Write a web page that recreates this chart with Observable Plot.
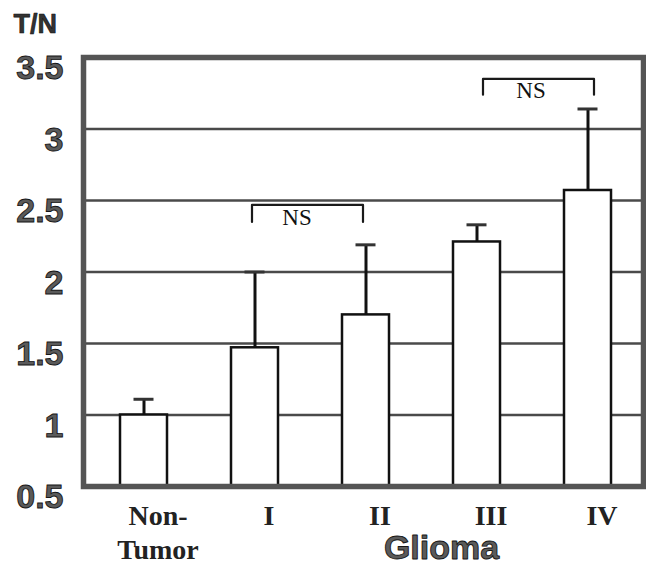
<!DOCTYPE html>
<html><head><meta charset="utf-8">
<script src="https://cdn.jsdelivr.net/npm/d3@7"></script>
<script src="https://cdn.jsdelivr.net/npm/@observablehq/plot@0.6"></script>
<style>
body{margin:0;background:#fff;}
#chart svg{display:block;}
#chart g[aria-label="y-axis tick label"]{fill:#5a5a5a;stroke:#151515;stroke-width:0.9px;font-family:"Liberation Sans",Arial,sans-serif;font-weight:bold;font-size:34px;}
#chart g[aria-label="x-axis tick label"]{fill:#222;font-family:"Liberation Serif","Times New Roman",serif;font-weight:bold;font-size:28px;}
</style></head><body><div id="chart"></div>
<script>
// Data
const categories = ["Non-\nTumor", "I", "II", "III", "IV"];
const means      = [1.00, 1.47, 1.70, 2.21, 2.57];
const errTops    = [1.11, 2.00, 2.19, 2.33, 3.14];
const yTicks      = [0.5, 1, 1.5, 2, 2.5, 3, 3.5];
const yTickLabels = ["0.5", "1", "1.5", "2", "2.5", "3", "3.5"];
const gridValues  = [1, 1.5, 2, 2.5, 3];
// "NS" brackets
const nsFrom   = ["I", "III"];
const nsTo     = ["II", "IV"];
const nsTop    = [2.47, 3.35];
const nsTip    = [2.35, 3.24];
const nsLabelY = [2.38, 3.27];
const nsText   = ["NS", "NS"];

const rows = categories.map((c, i) => ({cat: c, mean: means[i], err: errTops[i]}));
const bracketMarks = nsFrom.map((f, i) => Plot.line(
  [{x: f, y: nsTip[i]}, {x: f, y: nsTop[i]}, {x: nsTo[i], y: nsTop[i]}, {x: nsTo[i], y: nsTip[i]}],
  {x: "x", y: "y", stroke: "#1a1a1a", strokeWidth: 2.2, curve: "linear", dx: i === 0 ? -3 : 6}
));
const nsLabelMarks = nsFrom.map((f, i) => Plot.text([nsText[i]], {
  x: () => f, y: () => nsLabelY[i], text: d => d,
  dx: i === 0 ? 42 : 54, fontFamily: "Liberation Serif, Times New Roman, serif",
  fontSize: 23, fill: "#111", lineAnchor: "middle"
}));

const chart = Plot.plot({
  width: 646, height: 568,
  marginLeft: 83, marginRight: 3, marginTop: 57, marginBottom: 82,
  style: {background: "white", fontFamily: "Liberation Sans, Arial, sans-serif"},
  x: {domain: categories, paddingInner: 0.578, paddingOuter: 0.3, align: 0.54, label: null},
  y: {domain: [0.5, 3.5], label: null},
  marks: [
    Plot.ruleY(gridValues, {stroke: "#4a4a4a", strokeWidth: 2.5}),
    Plot.barY(rows, {x: "cat", y1: 0.5, y2: "mean", fill: "white", stroke: "#111", strokeWidth: 2.5}),
    Plot.ruleX(rows, {x: "cat", y1: "mean", y2: "err", stroke: "#111", strokeWidth: 3}),
    Plot.tickY(rows, {x: "cat", y: "err", stroke: "#333", strokeWidth: 3, inset: 13.5}),
    ...bracketMarks,
    ...nsLabelMarks,
    Plot.axisY({ticks: yTicks, tickFormat: d => yTickLabels[yTicks.indexOf(d)], tickSize: 0, tickPadding: 20, dy: 11, label: null, fontSize: 34, fontWeight: "bold"}),
    Plot.axisX({tickSize: 0, tickPadding: 15, dx: 14, label: null, fontSize: 28, lineHeight: 1.2}),
    Plot.frame({stroke: "#555", strokeWidth: 5.5}),
    Plot.text(["T/N"], {frameAnchor: "top-left", text: d => d, dx: -70, dy: -33, textAnchor: "start", lineAnchor: "middle",
      fontSize: 27, fontWeight: "bold", fill: "#333", stroke: "#111", strokeWidth: 0.6, paintOrder: "normal"}),
    Plot.text(["Glioma"], {frameAnchor: "bottom", text: d => d, dx: 78, dy: 62, lineAnchor: "middle",
      fontSize: 34, fontWeight: "bold", fill: "#5a5a5a", stroke: "#151515", strokeWidth: 0.9, paintOrder: "normal"})
  ]
});
document.getElementById("chart").appendChild(chart);
</script></body></html>
